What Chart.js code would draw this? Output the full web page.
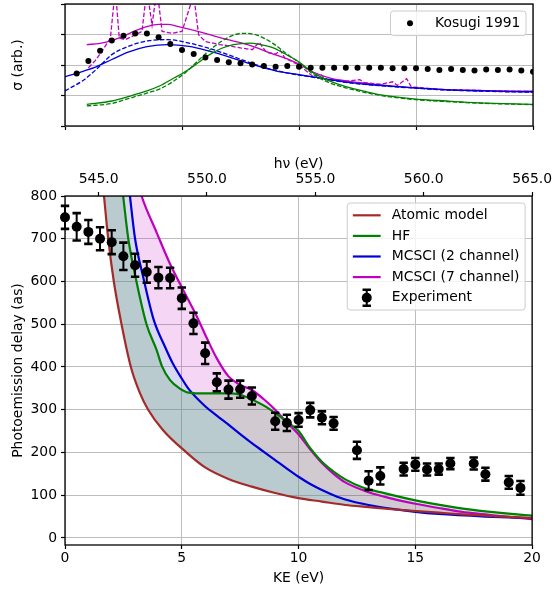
<!DOCTYPE html>
<html lang="en">
<head>
  <meta charset="UTF-8">
  <title>Photoemission delay</title>
  <script src="https://cdn.jsdelivr.net/npm/chart.js"></script>
  <style>
    html, body { margin: 0; padding: 0; background: #fff; }
    #wrap { position: relative; width: 556px; height: 592px; }
    canvas { position: absolute; left: 0; }
    #top { top: 0; }
    #main { top: 140px; }
  </style>
</head>
<body>
  <div id="wrap">
    <canvas id="top" width="556" height="140"></canvas>
    <canvas id="main" width="556" height="452"></canvas>
  </div>

  <script>
    // ---- lower panel: photoemission delay (as) vs KE (eV) ----
    const expKE    = [0, 0.5, 1, 1.5, 2, 2.5, 3, 3.5, 4, 4.5, 5, 5.5, 6, 6.5, 7, 7.5, 8, 9, 9.5, 10, 10.5, 11, 11.5, 12.5, 13, 13.5, 14.5, 15, 15.5, 16, 16.5, 17.5, 18, 19, 19.5];
    const expDelay = [750, 728, 716, 700, 692, 659, 638, 622, 609, 608, 561, 502, 432, 364, 347, 348, 332, 273, 269, 276, 299, 281, 268, 205, 134, 145, 161, 172, 160, 161, 174, 174, 149, 130, 117];
    const expErr   = [27, 32, 28, 27, 28, 32, 27, 25, 25, 24, 25, 25, 25, 21, 21, 20, 20, 20, 19, 16, 17, 15, 15, 20, 22, 20, 15, 15, 14, 13, 13, 14, 15, 15, 16];

    const atomicKE    = [1.5, 1.67, 1.85, 2.09, 2.42, 2.82, 3.2, 3.56, 4.2, 5.2, 6, 7, 8, 9, 10, 11, 12, 13, 14, 15, 16, 17, 18, 19, 20];
    const atomicDelay = [900, 800, 700, 600, 500, 400, 340, 300, 252, 200, 165, 138, 120, 105, 93, 85, 77, 72, 67, 63, 59, 55, 52, 49, 46];

    const hfKE    = [1.5, 2, 2.49, 2.71, 3.06, 3.49, 3.92, 4.15, 4.5, 4.9, 5.3, 6, 7, 7.5, 8, 8.5, 9, 9.5, 10, 10.5, 11, 11.5, 12, 12.75, 13.5, 14.9, 16.3, 17.7, 20];
    const hfDelay = [1400, 1030, 800, 700, 600, 500, 440, 402, 369, 350, 340, 338, 338, 335, 324, 310, 292, 272, 250, 210, 178, 155, 137, 118, 107, 89, 75, 64, 52];

    const mc2KE    = [1.5, 2.2, 2.78, 3, 3.35, 3.8, 4.3, 4.6, 5, 5.3, 6, 6.5, 7, 7.5, 8, 8.5, 9, 9.5, 10, 10.5, 11, 11.5, 12, 13, 14, 15, 16, 18, 20];
    const mc2Delay = [1700, 1080, 800, 700, 610, 510, 445, 410, 373, 348, 308, 286, 265, 243, 222, 202, 182, 162, 143, 126, 112, 100, 90, 77, 68, 61, 56, 50, 46];

    const mc7KE    = [1.5, 2.5, 3.28, 3.92, 4.49, 5.06, 5.63, 6.05, 6.5, 7, 7.5, 8, 8.5, 9, 9.5, 10, 10.5, 11, 11.5, 12, 13, 14, 15, 16, 17, 18, 19, 20];
    const mc7Delay = [1500, 960, 800, 715, 642, 580, 520, 470, 420, 378, 358, 346, 325, 300, 270, 242, 207, 175, 150, 130, 107, 92, 80, 70, 61, 55, 49, 44];

    // ---- upper panel: cross section (arb.) vs KE ----
    const kosugiKE    = [0.5, 1, 1.5, 2, 2.5, 3, 3.5, 4, 4.5, 5, 5.5, 6, 6.5, 7, 7.5, 8, 8.5, 9, 9.5, 10, 10.5, 11, 11.5, 12, 12.5, 13, 13.5, 14, 14.5, 15, 15.5, 16, 16.5, 17, 17.5, 18, 18.5, 19, 19.5, 20];
    const kosugiSigma = [1.72, 2.13, 2.47, 2.80, 2.96, 3.03, 3.03, 2.91, 2.69, 2.49, 2.36, 2.25, 2.16, 2.09, 2.06, 2.02, 1.97, 1.94, 1.97, 1.94, 1.91, 1.91, 1.91, 1.91, 1.91, 1.91, 1.91, 1.89, 1.89, 1.89, 1.87, 1.84, 1.87, 1.84, 1.82, 1.85, 1.84, 1.85, 1.82, 1.78];

    const sigHfKE   = [0.93, 2, 2.63, 3.5, 4.06, 4.6, 5.2, 5.7, 6.2, 6.7, 7.2, 7.9, 8.4, 8.9, 9.2, 9.6, 10, 10.6, 11.3, 12, 13, 13.5, 14.9, 16.3, 17.7, 20];
    const sigHf     = [0.71, 0.82, 0.95, 1.15, 1.32, 1.55, 1.81, 2.08, 2.35, 2.55, 2.67, 2.72, 2.66, 2.56, 2.45, 2.28, 2.10, 1.75, 1.48, 1.29, 1.10, 1.02, 0.89, 0.82, 0.76, 0.71];
    const sigHfDKE  = [0.93, 2, 2.63, 3.5, 4.06, 4.6, 5.2, 5.7, 6.2, 6.7, 7.2, 7.6, 8.2, 8.9, 9.5, 10, 10.6, 11.3, 12, 13.5, 14.9, 16.3, 17.7, 20];
    const sigHfD    = [0.66, 0.74, 0.88, 1.08, 1.22, 1.45, 1.79, 2.15, 2.50, 2.78, 2.98, 3.04, 2.98, 2.70, 2.35, 2.08, 1.70, 1.42, 1.25, 1.00, 0.87, 0.80, 0.75, 0.70];

    const sigMc2KE  = [0, 0.8, 1.3, 2, 2.7, 3.5, 4.4, 5.3, 6.1, 7, 8, 9, 10, 11, 12, 13, 14, 15, 16, 17, 18, 19, 20];
    const sigMc2    = [1.61, 1.80, 1.93, 2.18, 2.42, 2.60, 2.67, 2.61, 2.47, 2.27, 2.02, 1.81, 1.68, 1.56, 1.44, 1.36, 1.30, 1.25, 1.20, 1.17, 1.15, 1.13, 1.12];
    const sigMc2DKE = [0, 0.8, 1.3, 2, 2.7, 3.6, 4.4, 5.3, 6.1, 7, 8, 9, 10, 11, 12, 13, 14, 15, 16, 17, 18, 19, 20];
    const sigMc2D   = [1.15, 1.51, 1.83, 2.34, 2.61, 2.80, 2.83, 2.72, 2.56, 2.33, 2.05, 1.82, 1.67, 1.55, 1.43, 1.35, 1.29, 1.24, 1.19, 1.16, 1.14, 1.12, 1.11];

    const sigMc7KE  = [0.93, 1.5, 2, 2.5, 3, 3.5, 4, 4.4, 4.8, 5.8, 6.7, 7.8, 8.9, 9.5, 10, 10.6, 11.3, 12, 13.5, 14.9, 16.3, 18, 20];
    const sigMc7    = [2.67, 2.71, 2.80, 2.95, 3.12, 3.26, 3.33, 3.33, 3.27, 3.08, 2.88, 2.67, 2.36, 2.20, 2.03, 1.77, 1.58, 1.48, 1.35, 1.25, 1.19, 1.16, 1.14];
    const sigMc7DKE = [1, 1.3, 1.58, 1.94, 2.15, 2.32, 2.58, 3, 3.29, 3.5, 3.72, 3.93, 4.15, 4.57, 5, 5.5, 5.71, 6, 6.6, 7, 7.5, 8, 8.3, 8.6, 9, 9.2, 9.4, 10, 10.6, 10.9, 11.2, 12, 12.6, 12.8, 13.5, 14, 14.2, 14.6, 14.8, 16, 18, 20];
    const sigMc7D   = [1.91, 2.15, 2.45, 2.88, 4.5, 2.88, 2.83, 2.99, 3.10, 4.5, 3.31, 4.5, 3.10, 3.04, 3.10, 4.3, 2.99, 2.77, 2.67, 2.63, 2.56, 2.50, 2.75, 2.42, 2.36, 2.48, 2.22, 2.00, 1.62, 1.70, 1.52, 1.47, 1.52, 1.42, 1.37, 1.45, 1.33, 1.55, 1.28, 1.20, 1.16, 1.13];

    // ---- axis ticks ----
    const keTicks    = [0, 5, 10, 15, 20];
    const hvTicks    = [545, 550, 555, 560, 565];
    const delayTicks = [0, 100, 200, 300, 400, 500, 600, 700, 800];
    const sigmaTicks = [0, 1, 2, 3, 4];

    const BROWN = '#a52a2a', GREEN = '#008000', BLUE = '#0000d8', MAGENTA = '#bf00bf';
    const FS = 13.9;

    Chart.defaults.font.family = '"DejaVu Sans", sans-serif';
    Chart.defaults.font.size = FS;
    Chart.defaults.color = '#000';

    const pts = (xs, ys) => xs.map((x, i) => ({ x: x, y: ys[i] }));
    const setTicks = list => scale => { scale.ticks = list.map(v => ({ value: v })); };
    const gridOpts = { color: '#bdbdbd', lineWidth: 1, tickColor: '#000', tickLength: 4, tickWidth: 1.2 };

    // box around the plot area, like matplotlib spines
    const frame = {
      id: 'frame',
      afterDatasetsDraw(chart) {
        const { ctx, chartArea: a } = chart;
        ctx.save();
        ctx.strokeStyle = '#000';
        ctx.lineWidth = 1.3;
        ctx.strokeRect(a.left, a.top, a.right - a.left, a.bottom - a.top);
        ctx.restore();
      }
    };

    function drawErrorBar(ctx, px, lo, hi) {
      ctx.lineWidth = 2;
      ctx.beginPath(); ctx.moveTo(px, lo); ctx.lineTo(px, hi); ctx.stroke();
      ctx.lineWidth = 2.6;
      ctx.beginPath();
      ctx.moveTo(px - 4.2, lo); ctx.lineTo(px + 4.2, lo);
      ctx.moveTo(px - 4.2, hi); ctx.lineTo(px + 4.2, hi);
      ctx.stroke();
    }

    const errorBars = {
      id: 'errorBars',
      afterDatasetsDraw(chart) {
        const { ctx, scales } = chart;
        ctx.save();
        ctx.strokeStyle = '#000';
        expKE.forEach((ke, i) => {
          const px = scales.x.getPixelForValue(ke);
          drawErrorBar(ctx, px,
            scales.y.getPixelForValue(expDelay[i] - expErr[i]),
            scales.y.getPixelForValue(expDelay[i] + expErr[i]));
        });
        ctx.restore();
      }
    };

    // legend in a framed box, upper right inside the axes
    const boxLegend = {
      id: 'boxLegend',
      afterDraw(chart, args, opts) {
        const { ctx, chartArea: a } = chart;
        const pad = 5.6, handle = 27.8, gap = 11.1, rowH = 13.4, sep = 7.2;
        const items = chart.data.datasets.filter(d => d.label);
        ctx.save();
        ctx.font = FS + 'px "DejaVu Sans"';
        const tw = Math.max(...items.map(d => ctx.measureText(d.label).width));
        const w = pad * 2 + handle + gap + tw;
        const h = pad * 2 + items.length * rowH + (items.length - 1) * sep;
        const bx = a.right - 7 - w, by = a.top + 7;
        ctx.beginPath();
        if (ctx.roundRect) ctx.roundRect(bx, by, w, h, 3); else ctx.rect(bx, by, w, h);
        ctx.fillStyle = 'rgba(255,255,255,0.8)';
        ctx.fill();
        ctx.strokeStyle = '#cccccc';
        ctx.lineWidth = 1;
        ctx.stroke();
        items.forEach((d, i) => {
          const cy = by + pad + rowH / 2 + i * (rowH + sep);
          const cx = bx + pad + handle / 2;
          if (d.showLine === false) {
            ctx.fillStyle = '#000';
            ctx.strokeStyle = '#000';
            if (opts.errors) drawErrorBar(ctx, cx, cy + 8, cy - 8);
            ctx.beginPath();
            ctx.arc(cx, cy, d.pointRadius, 0, Math.PI * 2);
            ctx.fill();
          } else {
            ctx.strokeStyle = d.borderColor;
            ctx.lineWidth = d.borderWidth;
            ctx.beginPath();
            ctx.moveTo(bx + pad, cy);
            ctx.lineTo(bx + pad + handle, cy);
            ctx.stroke();
          }
          ctx.fillStyle = '#000';
          ctx.textAlign = 'left';
          ctx.textBaseline = 'middle';
          ctx.fillText(d.label, bx + pad + handle + gap, cy);
        });
        ctx.restore();
      }
    };

    const curve = (data, color, width, dash) => ({
      data: data, borderColor: color, borderWidth: width, borderDash: dash || [],
      pointRadius: 0, fill: false, cubicInterpolationMode: 'monotone'
    });

    // ---------- upper panel ----------
    const spiky = curve(pts(sigMc7DKE, sigMc7D), MAGENTA, 1.3, [4.5, 2]);
    spiky.cubicInterpolationMode = 'default';
    spiky.tension = 0;

    new Chart(document.getElementById('top'), {
      type: 'line',
      data: {
        datasets: [
          { label: 'Kosugi 1991', data: pts(kosugiKE, kosugiSigma), showLine: false, fill: false,
            pointRadius: 3, pointBorderWidth: 0, pointBackgroundColor: '#000', borderColor: '#000' },
          curve(pts(sigHfKE, sigHf), GREEN, 1.3),
          curve(pts(sigHfDKE, sigHfD), GREEN, 1.3, [4.5, 2]),
          curve(pts(sigMc2KE, sigMc2), BLUE, 1.3),
          curve(pts(sigMc2DKE, sigMc2D), BLUE, 1.3, [4.5, 2]),
          curve(pts(sigMc7KE, sigMc7), MAGENTA, 1.3),
          spiky
        ]
      },
      options: {
        responsive: false, animation: false, devicePixelRatio: 1,
        layout: { padding: { left: 0, right: 23, top: 2, bottom: 0 } },
        plugins: { legend: { display: false }, tooltip: { enabled: false }, boxLegend: {} },
        scales: {
          x: {
            type: 'linear', min: 0, max: 20,
            afterBuildTicks: setTicks(keTicks),
            ticks: { display: false },
            grid: gridOpts, border: { display: false },
            afterFit: s => { s.height = 14; }
          },
          y: {
            min: 0, max: 4,
            afterBuildTicks: setTicks(sigmaTicks),
            ticks: { display: false },
            grid: gridOpts, border: { display: false },
            title: { display: true, text: 'σ (arb.)', padding: { top: 10, bottom: 0 } },
            afterFit: s => { s.width = 65; }
          }
        }
      },
      plugins: [frame, boxLegend]
    });

    // ---------- lower panel ----------
    new Chart(document.getElementById('main'), {
      type: 'line',
      data: {
        datasets: [
          Object.assign(curve(pts(atomicKE, atomicDelay), BROWN, 2.2), { label: 'Atomic model' }),
          Object.assign(curve(pts(hfKE, hfDelay), GREEN, 2.2), { label: 'HF', fill: 0, backgroundColor: 'rgba(0,128,0,0.15)' }),
          Object.assign(curve(pts(mc2KE, mc2Delay), BLUE, 2.2), { label: 'MCSCI (2 channel)', fill: 0, backgroundColor: 'rgba(120,225,235,0.22)' }),
          Object.assign(curve(pts(mc7KE, mc7Delay), MAGENTA, 2.2), { label: 'MCSCI (7 channel)', fill: 0, backgroundColor: 'rgba(191,0,191,0.16)' }),
          { label: 'Experiment', data: pts(expKE, expDelay), showLine: false, fill: false, order: -1, clip: false,
            pointRadius: 5, pointBorderWidth: 0, pointBackgroundColor: '#000', borderColor: '#000' }
        ]
      },
      options: {
        responsive: false, animation: false, devicePixelRatio: 1,
        layout: { padding: { left: 0, right: 23, top: 0, bottom: 0 } },
        plugins: {
          legend: { display: false }, tooltip: { enabled: false },
          filler: { drawTime: 'beforeDatasetsDraw' },
          boxLegend: { errors: true }
        },
        scales: {
          x: {
            type: 'linear', position: 'bottom', min: 0, max: 20,
            afterBuildTicks: setTicks(keTicks),
            ticks: { padding: 1 },
            grid: gridOpts, border: { display: false },
            title: { display: true, text: 'KE (eV)', padding: { top: 0, bottom: 5 } },
            afterFit: s => { s.height = 47; }
          },
          hv: {
            type: 'linear', position: 'top', axis: 'x', min: 543.45, max: 565,
            afterBuildTicks: setTicks(hvTicks),
            ticks: { padding: 4, callback: v => v.toFixed(1) },
            grid: Object.assign({}, gridOpts, { drawOnChartArea: false }), border: { display: false },
            title: { display: true, text: 'hν (eV)', padding: { top: 16, bottom: 0 } },
            afterFit: s => { s.height = 56; }
          },
          y: {
            min: -16.6, max: 800,
            afterBuildTicks: setTicks(delayTicks),
            ticks: { padding: 4 },
            grid: gridOpts, border: { display: false },
            title: { display: true, text: 'Photoemission delay (as)', padding: { top: 10, bottom: 0 } },
            afterFit: s => { s.width = 65; }
          }
        }
      },
      plugins: [frame, errorBars, boxLegend]
    });
  </script>
</body>
</html>
